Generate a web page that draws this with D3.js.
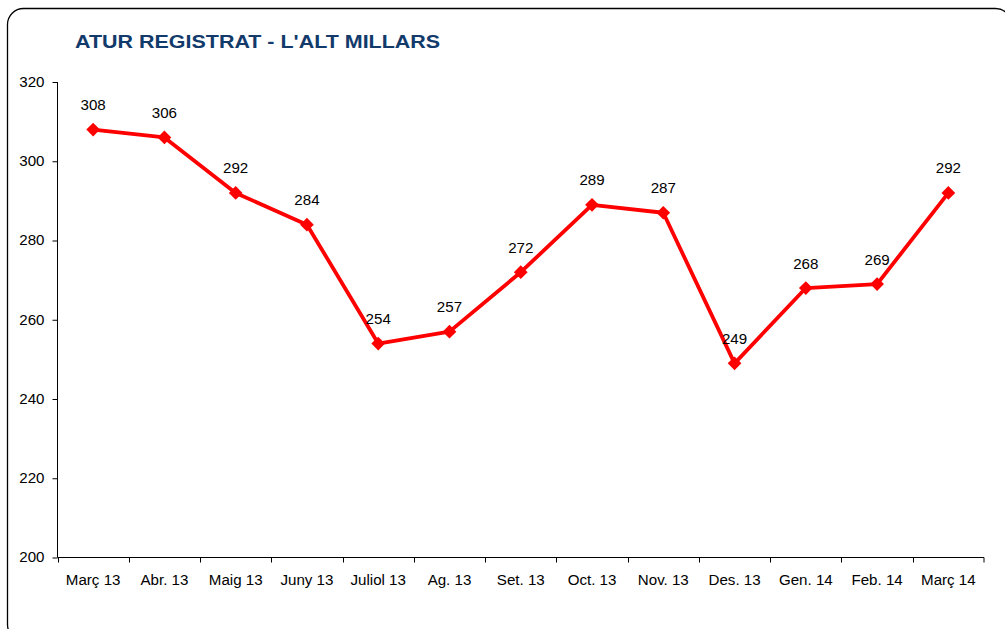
<!DOCTYPE html>
<html>
<head>
<meta charset="utf-8">
<script src="https://cdn.jsdelivr.net/npm/d3@7"></script>
<style>
  body { margin: 0; background: #fff; }
  svg text { font-family: "Liberation Sans", Arial, sans-serif; }
</style>
</head>
<body>
<svg id="canvas" width="1005" height="629"></svg>
<script>
// data
let months = ['Març 13', 'Abr. 13', 'Maig 13', 'Juny 13', 'Juliol 13', 'Ag. 13', 'Set. 13',
              'Oct. 13', 'Nov. 13', 'Des. 13', 'Gen. 14', 'Feb. 14', 'Març 14']
let atur = [308, 306, 292, 284, 254, 257, 272, 289, 287, 249, 268, 269, 292]
let yTicks = [200, 220, 240, 260, 280, 300, 320]

let canvas = d3.select('#canvas')

// the original text is a bit stretched sideways
let stretch = 1.08

// outer frame
canvas.append('rect')
    .attr('x', 7.5).attr('y', 8.5)
    .attr('width', 1004).attr('height', 632)
    .attr('rx', 16).attr('ry', 16)
    .attr('fill', 'white')
    .attr('stroke', '#000')
    .attr('stroke-width', 1.3)

canvas.append('text')
    .text('ATUR REGISTRAT - L\'ALT MILLARS')
    .attr('transform', 'translate(75,47.5) scale(1.13,1)')
    .attr('font-size', '19px')
    .attr('font-weight', 'bold')
    .attr('fill', '#123A6B')

let plotLeft = 57.5, plotRight = 984, plotTop = 82, plotBottom = 557.5

let xScale = d3.scaleBand()
    .domain(months)
    .range([plotLeft, plotRight])

let yScale = d3.scaleLinear()
    .domain([200, 320])
    .range([plotBottom, plotTop])

// y axis
let yAxis = d3.axisLeft(yScale).tickValues(yTicks).tickSize(5).tickPadding(7)
let yG = canvas.append('g')
    .attr('transform', 'translate(' + plotLeft + ',0)')
    .call(yAxis)
yG.selectAll('text')
    .attr('font-size', '14px')
    .attr('fill', '#000')
    .attr('font-family', '"Liberation Sans", Arial, sans-serif')
    .attr('transform', 'scale(' + stretch + ',1)')
yG.selectAll('line, path').attr('stroke', '#000')
yG.select('.domain').attr('d', 'M0,' + plotTop + 'V' + plotBottom)

// x axis: ticks between categories
let xG = canvas.append('g')
    .attr('transform', 'translate(0,' + plotBottom + ')')
xG.append('line')
    .attr('x1', plotLeft).attr('x2', plotRight)
    .attr('stroke', '#000')
xG.selectAll('.tk')
    .data(months.concat(['end']))
    .enter()
    .append('line')
    .attr('class', 'tk')
    .attr('x1', (m, i) => i < months.length ? Math.round(xScale(m)) + 0.5 : plotRight)
    .attr('x2', (m, i) => i < months.length ? Math.round(xScale(m)) + 0.5 : plotRight)
    .attr('y1', 0).attr('y2', 5)
    .attr('stroke', '#000')
xG.selectAll('.lbl')
    .data(months)
    .enter()
    .append('text')
    .attr('class', 'lbl')
    .text((m) => m)
    .attr('transform', (m) => 'translate(' + (xScale(m) + xScale.bandwidth() / 2) + ',27) scale(' + stretch + ',1)')
    .attr('text-anchor', 'middle')
    .attr('font-size', '14px')
    .attr('fill', '#000')

let cx = (i) => xScale(months[i]) + xScale.bandwidth() / 2

let line = d3.line()
    .x((d, i) => cx(i))
    .y((d) => yScale(d))

canvas.append('path')
    .datum(atur)
    .attr('d', line)
    .attr('fill', 'none')
    .attr('stroke', '#FF0000')
    .attr('stroke-width', 3.8)
    .attr('stroke-linejoin', 'round')

canvas.selectAll('.pt')
    .data(atur)
    .enter()
    .append('path')
    .attr('class', 'pt')
    .attr('d', d3.symbol().type(d3.symbolDiamond2).size(120))
    .attr('transform', (d, i) => 'translate(' + cx(i) + ',' + yScale(d) + ')')
    .attr('fill', '#FF0000')

canvas.selectAll('.val')
    .data(atur)
    .enter()
    .append('text')
    .attr('class', 'val')
    .text((d) => d)
    .attr('transform', (d, i) => 'translate(' + cx(i) + ',' + (yScale(d) - 19.5) + ') scale(' + stretch + ',1)')
    .attr('text-anchor', 'middle')
    .attr('font-size', '14px')
    .attr('fill', '#000')
</script>
</body>
</html>
